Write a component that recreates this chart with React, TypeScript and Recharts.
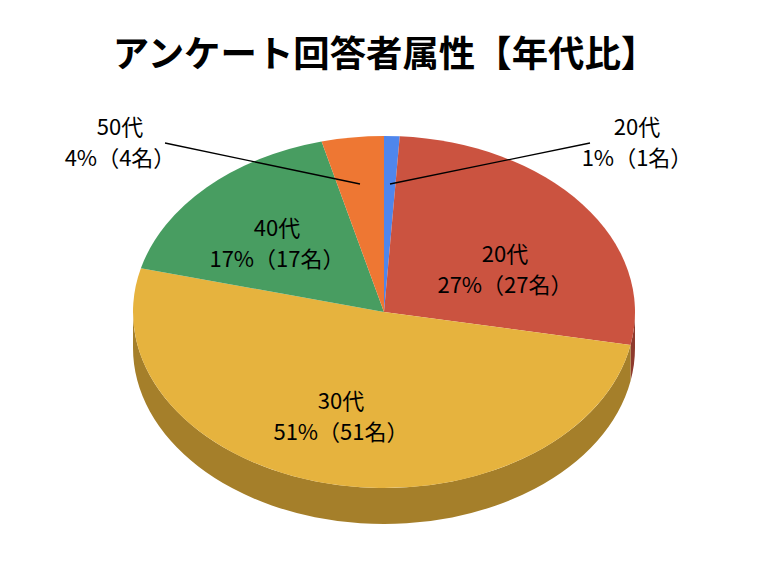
import { PieChart, Pie, Cell } from 'recharts';

const names = ['20代', '20代', '30代', '40代', '50代'];
const counts = [1, 27, 51, 17, 4];
const topColors = ['#4f86ec', '#cb5340', '#e6b33e', '#489d61', '#ee7733'];
const sideColors = ['#375da5', '#8e3a2d', '#a57f2a', '#326e44', '#a75324'];

// label centres and leader lines, in picture pixels
const labelSpots = [
  { x: 637, y: 125, line: [590, 143, 390, 184] },
  { x: 505, y: 252 },
  { x: 341, y: 399 },
  { x: 277, y: 226 },
  { x: 120, y: 125, line: [165, 143, 360, 184] },
];

const data = names.map((name, i) => ({ name, value: counts[i] }));

const CX = 384;
const CY = 312;
const RX = 251;
const RY = 176;
const DEPTH = 36;
const FONT = '"Noto Sans CJK JP", "Noto Sans", sans-serif';

// clockwise degrees from 12 o'clock, flattened onto the ellipse
const point = (deg: number, dy = 0) => {
  const r = (deg * Math.PI) / 180;
  return `${CX + RX * Math.sin(r)} ${CY - RY * Math.cos(r) + dy}`;
};

function TopSlice(props: any) {
  const a = 90 - props.startAngle;
  const b = 90 - props.endAngle;
  const large = b - a > 180 ? 1 : 0;
  return (
    <path
      d={`M ${CX} ${CY} L ${point(a)} A ${RX} ${RY} 0 ${large} 1 ${point(b)} Z`}
      fill={props.fill}
      stroke="none"
    />
  );
}

function SideSlice(props: any) {
  const a = Math.max(90 - props.startAngle, 90);
  const b = Math.min(90 - props.endAngle, 270);
  if (a >= b) return <g />;
  return (
    <path
      d={`M ${point(a)} A ${RX} ${RY} 0 0 1 ${point(b)} L ${point(b, DEPTH)} A ${RX} ${RY} 0 0 0 ${point(a, DEPTH)} Z`}
      fill={props.fill}
      stroke="none"
    />
  );
}

function SliceLabel(props: any) {
  const i = props.index;
  const spot = labelSpots[i];
  const pct = Math.round(props.percent * 100);
  return (
    <g>
      {spot.line && (
        <line x1={spot.line[0]} y1={spot.line[1]} x2={spot.line[2]} y2={spot.line[3]} stroke="#000" strokeWidth={1.3} />
      )}
      <text x={spot.x} y={spot.y} textAnchor="middle" dominantBaseline="central" fontSize={22} fontFamily={FONT} fill="#000">
        {names[i]}
      </text>
      <text x={spot.x} y={spot.y + 31} textAnchor="middle" dominantBaseline="central" fontSize={22} fontFamily={FONT} fill="#000">
        {`${pct}%（${counts[i]}名）`}
      </text>
    </g>
  );
}

export default function App() {
  return (
    <div style={{ position: 'absolute', left: 0, top: 0, width: 768, height: 576, background: '#fff' }}>
      <div
        style={{
          position: 'absolute',
          left: 0,
          width: 770,
          top: 26,
          textAlign: 'center',
          fontFamily: FONT,
          fontWeight: 700,
          fontSize: 36.4,
          lineHeight: '50px',
          color: '#000',
          whiteSpace: 'nowrap',
        }}
      >
        アンケート回答者属性【年代比】
      </div>
      <PieChart width={768} height={576} margin={{ top: 0, right: 0, bottom: 0, left: 0 }}>
        <Pie
          data={data}
          dataKey="value"
          cx={CX}
          cy={CY}
          outerRadius={RX}
          startAngle={90}
          endAngle={-270}
          isAnimationActive={false}
          shape={SideSlice}
          stroke="none"
        >
          {sideColors.map((c, i) => (
            <Cell key={i} fill={c} />
          ))}
        </Pie>
        <Pie
          data={data}
          dataKey="value"
          cx={CX}
          cy={CY}
          outerRadius={RX}
          startAngle={90}
          endAngle={-270}
          isAnimationActive={false}
          shape={TopSlice}
          stroke="none"
          label={SliceLabel}
          labelLine={false}
        >
          {topColors.map((c, i) => (
            <Cell key={i} fill={c} />
          ))}
        </Pie>
      </PieChart>
    </div>
  );
}
